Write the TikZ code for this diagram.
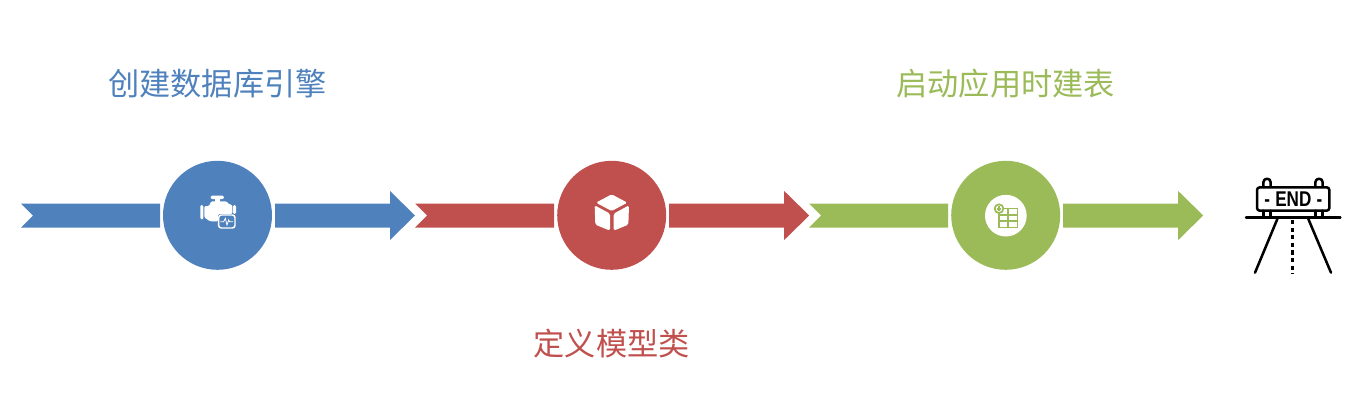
\documentclass[tikz,border=0pt]{standalone}
\usepackage{fontspec}
\newfontfamily\cjk{Noto Sans CJK SC}
\newfontfamily\signfont{Liberation Sans}
\definecolor{cblue}{HTML}{4F81BD}
\definecolor{cred}{HTML}{C0504D}
\definecolor{cgreen}{HTML}{9BBB59}
\tikzset{
  stage/.style={circle,fill=#1,draw=none,minimum size=109*0.75pt,inner sep=0pt,outer sep=0pt},
  title/.style={text=#1,font=\cjk\fontsize{23.4pt}{28pt}\selectfont,inner sep=0pt},
  bar/.style={fill=#1,draw=none},
  ink/.style={draw=black,line width=1.9pt,line cap=round,line join=round},
}
% #1 start x (notch tail) #2 colour #3 centre x of circle
\newcommand{\stagearrow}[3]{%
  \path[bar=#2] (#1,203.5) -- (#3-57.5,203.5) -- (#3-57.5,227.7) -- (#1,227.7) -- (#1+12,215.5) -- cycle;
  \path[bar=#2] (#3+57.5,203.5) -- (#3+172.5,203.5) -- (#3+172.5,191) -- (#3+197.5,215.5) -- (#3+172.5,240) -- (#3+172.5,227.7) -- (#3+57.5,227.7) -- cycle;
}
\begin{document}
\begin{tikzpicture}[x=0.75pt,y=-0.75pt]
\useasboundingbox (0,0) rectangle (1363,404);
\stagearrow{21}{cblue}{217.5}
\stagearrow{415}{cred}{611.7}
\stagearrow{809}{cgreen}{1005.7}
\node[stage=cblue] (engine) at (217.5,215.3) {};
\node[stage=cred] (model) at (611.7,215.3) {};
\node[stage=cgreen] (table) at (1005.7,215.3) {};
\node[title=cblue] (t1) at (217.5,84) {创建数据库引擎};
\node[title=cred] (t2) at (611.7,344) {定义模型类};
\node[title=cgreen] (t3) at (1005.7,84) {启动应用时建表};
% engine icon
\begin{scope}[shift={(150,150)},scale=1/3]
  \fill[white,rounded corners=1pt] (182,137) rectangle (222,147);
  \fill[white] (195,147) rectangle (210,158);
  \fill[white,rounded corners=1pt] (163,168) -- (178,168) -- (183,154) -- (230,154) -- (238,164) -- (247,164) -- (247,192) -- (204,192) -- (204,214) -- (180,214) -- (163,202) -- cycle;
  \fill[white,rounded corners=1pt] (151,165) rectangle (160,208);
  \fill[white,rounded corners=1pt] (249,165) rectangle (258,192);
  \draw[white,fill=cblue,line width=1.1pt,rounded corners=2pt] (206,195) rectangle (255,234);
  \draw[white,line width=0.6pt] (211,215) -- (221,215) -- (226,205) -- (231,225) -- (236,210) -- (239,215) -- (249,215);
\end{scope}
% cube icon
\begin{scope}[shift={(545,150)},scale=1/3]
  \fill[white,rounded corners=1.2pt] (200,133) -- (247,158) -- (200,183) -- (153,158) -- cycle;
  \fill[white,rounded corners=1.2pt] (149,166) -- (195,191) -- (195,242) -- (151,224) -- cycle;
  \fill[white,rounded corners=1.2pt] (252,166) -- (206,191) -- (206,242) -- (250,224) -- cycle;
\end{scope}
% table icon
\begin{scope}[shift={(940,150)},scale=1/3]
  \fill[white] (197.5,197) circle (62.5);
  \draw[cgreen,line width=1.1pt] (177,176) rectangle (232,232);
  \draw[cgreen,line width=1.1pt] (177,195) -- (232,195) (177,213) -- (232,213) (204,176) -- (204,232);
  \draw[cgreen,fill=white,line width=1.3pt] (177,176) circle (13);
  \draw[cgreen,line width=1.5pt] (170,176) -- (184,176) (177,169) -- (177,183);
\end{scope}
% END icon
\begin{scope}[shift={(1230,165)},scale=1/3]
  \draw[ink] (100,66) -- (100,52) arc[start angle=180,end angle=360,radius=11] -- (122,66);
  \draw[ink] (256,66) -- (256,52) arc[start angle=180,end angle=360,radius=11] -- (278,66);
  \draw[ink] (100,137) -- (100,158) (122,137) -- (122,158) (256,137) -- (256,158) (278,137) -- (278,158);
  \draw[ink,rounded corners=2pt] (81,67) rectangle (298,137);
  \draw[ink] (48,158) -- (331,158);
  \draw[ink] (142,162) -- (75,323);
  \draw[ink] (235,162) -- (303,323);
  \draw[ink,line cap=butt,dash pattern=on 3.2pt off 2.5pt] (188,165) -- (188,325);
  \node[inner sep=0pt,font=\signfont\bfseries\fontsize{16pt}{18pt}\selectfont] (endtext) at (190,101) {\scalebox{0.8}[1]{-\hspace{5pt}END\hspace{5pt}-}};
\end{scope}
\end{tikzpicture}
\end{document}
